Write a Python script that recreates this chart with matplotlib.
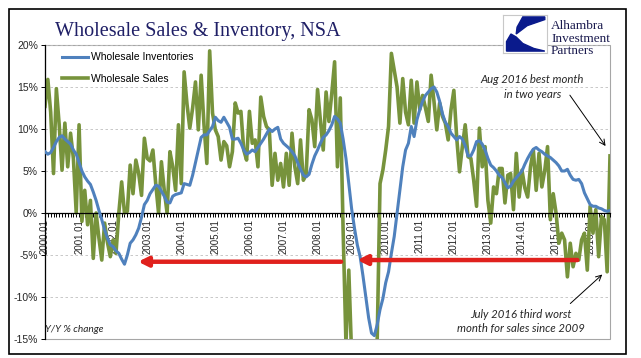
import numpy as np
import matplotlib.pyplot as plt
from matplotlib.patches import Rectangle, Polygon

plt.rcParams['font.family'] = ['Liberation Sans', 'DejaVu Sans']

# monthly Y/Y % change, 2000.01 - 2016.08
inventories = [
    7.3, 7.0, 7.2, 7.8, 8.5, 9.0, 9.2, 8.8, 8.5, 8.2, 7.5, 7.0,
    6.0, 5.0, 4.3, 3.8, 3.4, 2.5, 1.5, 0.3, -0.8, -2.0, -3.0, -3.8,
    -4.0, -4.5, -4.8, -5.5, -6.1, -5.0, -3.6, -3.2, -2.6, -1.8, -0.5, 1.0,
    1.5, 2.3, 2.8, 3.3, 3.2, 2.6, 2.0, 1.3, 1.2, 2.0, 2.2, 2.3,
    2.4, 3.5, 3.4, 3.3, 4.5, 6.0, 7.5, 9.0, 9.3, 9.3, 9.8, 10.3,
    11.4, 11.0, 10.8, 11.4, 10.8, 10.2, 8.8, 8.8, 8.9, 8.3, 7.5, 7.0,
    7.2, 7.5, 7.3, 7.8, 8.3, 8.8, 9.4, 10.0, 9.7, 10.0, 10.2, 8.8,
    8.3, 8.0, 7.7, 7.3, 6.8, 6.0, 5.2, 4.5, 4.3, 4.6, 5.8, 6.8,
    7.5, 8.3, 9.0, 9.3, 9.8, 10.5, 11.5, 11.2, 10.7, 8.8, 6.5, 3.5,
    0.5, -1.8, -3.8, -5.2, -7.5, -10.0, -12.5, -14.3, -14.6, -13.3, -11.5, -10.2,
    -8.3, -7.0, -4.8, -2.8, 0.0, 2.7, 5.5, 7.5, 8.3, 10.3, 9.1, 11.1,
    12.3, 13.3, 14.0, 14.4, 14.8, 15.0, 14.4, 13.3, 11.8, 10.8, 10.3, 9.5,
    9.1, 8.7, 9.1, 8.8, 8.0, 6.8, 6.8, 7.5, 8.5, 8.6, 8.2, 7.5,
    6.5, 5.7, 5.4, 5.0, 4.5, 4.2, 3.6, 3.0, 3.2, 3.8, 4.2, 4.6,
    5.0, 5.8, 6.5, 7.1, 7.6, 7.8, 7.5, 7.3, 7.0, 6.8, 6.6, 6.3,
    6.0, 5.6, 5.0, 5.0, 5.2, 4.5, 4.0, 3.9, 4.0, 3.5, 2.4, 1.7,
    1.0, 0.8, 0.8, 0.6, 0.5, 0.3, 0.2, 0.3,
]

sales = [
    12.7, 15.9, 12.0, 4.7, 14.8, 10.5, 5.1, 10.7, 5.5, 9.5, 6.5, 0.0,
    10.5, -1.0, 2.7, -1.4, 1.5, -5.4, 0.0, -3.0, -5.6, -1.2, -3.5, -5.2,
    -3.2, -4.8, 0.0, 3.7, 0.0, 0.2, 5.7, 2.3, 6.3, 4.7, 2.1, 8.9,
    6.5, 6.2, 7.5, 3.5, 0.0, 6.1, 2.7, 0.0, 7.3, 5.5, 2.7, 10.5,
    3.5, 16.8, 13.0, 10.1, 12.5, 15.6, 9.9, 16.4, 10.5, 5.9, 19.3, 11.9,
    9.9, 9.1, 6.3, 8.5, 8.0, 5.5, 7.3, 13.1, 11.9, 12.1, 7.5, 6.3,
    12.1, 8.3, 8.7, 5.5, 13.8, 11.5, 10.3, 9.9, 3.3, 7.1, 3.9, 5.9,
    3.1, 7.1, 3.3, 9.5, 5.5, 3.5, 8.7, 3.9, 4.7, 12.3, 11.1, 7.9,
    14.7, 11.0, 7.5, 14.4, 10.9, 14.2, 18.0, 5.5, 13.7, -2.0, -15.5, -6.8,
    -17.0, -19.0, -22.0, -21.0, -23.0, -22.0, -21.0, -19.0, -17.0, -15.2, 3.5, 5.1,
    7.5, 10.3, 19.0, 17.0, 15.0, 10.7, 16.0, 12.0, 10.5, 15.8, 10.7, 15.6,
    12.3, 14.0, 12.5, 10.9, 16.4, 13.3, 9.9, 13.1, 11.5, 10.7, 8.7, 12.3,
    14.6, 9.0, 4.9, 7.9, 10.5, 6.7, 6.5, 3.9, 0.8, 10.1, 5.5, 7.9,
    1.5, -1.2, 3.1, 2.3, 5.3, 5.3, 1.2, 4.5, 4.7, 0.4, 7.1, 1.9,
    5.1, 3.0, 1.9, 5.5, 7.5, 2.7, 7.1, 3.1, 5.0, 7.9, -0.8, 2.3,
    0.0, -3.6, -2.4, -3.2, -7.6, -3.6, -6.4, -4.8, -5.6, -3.2, -2.4, -6.8,
    0.8, -2.4, 0.4, -5.2, -0.4, -0.8, -7.0, 6.8,
]

years = list(range(2000, 2017))
year_labels = [f"{y}.01" for y in years]
y_ticks = [-15, -10, -5, 0, 5, 10, 15, 20]

# red arrows: (tail month index, head month index, level %)
red_arrows = [(104.3, 32.8, -5.8), (187.5, 110.0, -5.6)]

navy = '#1F1F66'
blue = '#4F81BD'
green = '#77933C'

W, H = 641, 358
fig = plt.figure(figsize=(W / 100, H / 100), dpi=100)
ax = fig.add_axes([45 / W, 1 - 339 / H, 565 / W, 294 / H])

x = np.arange(len(sales))
ax.plot(x, inventories, color=blue, lw=2.2, label='Wholesale Inventories', zorder=3)
ax.plot(x, sales, color=green, lw=2.6, label='Wholesale Sales', zorder=2)

ax.set_xlim(0, len(sales) - 1)
ax.set_ylim(-15, 20)
ax.set_yticks(y_ticks)
ax.set_yticklabels([f"{v}%" for v in y_ticks])
ax.set_xticks([12 * i for i in range(len(years))])
ax.set_xticklabels(year_labels)
ax.set_xticks(np.arange(len(sales)), minor=True)
ax.tick_params(axis='x', which='both', direction='out', length=3, width=0.7, pad=1.5)
ax.tick_params(axis='x', which='major', labelrotation=90, labelsize=7, labelcolor='#262626')
ax.tick_params(axis='y', direction='out', length=3, width=0.7, pad=2,
               labelsize=7.5, labelcolor='#262626')

ax.spines['bottom'].set_position(('data', 0))
ax.spines['bottom'].set_linewidth(0.9)
ax.spines['left'].set_linewidth(0.9)
ax.spines['top'].set_visible(False)
ax.spines['right'].set_visible(False)
ax.add_patch(Rectangle((0, 0), 1, 1, transform=ax.transAxes, fill=False,
                       ec='#A6A6A6', lw=0.8, clip_on=False, zorder=0))
ax.yaxis.grid(True, ls=(0, (3, 3)), color='#BFBFBF', lw=0.6)
ax.set_axisbelow(True)

ax.legend(loc='upper left', bbox_to_anchor=(0.03, 0.975), frameon=False,
          fontsize=7.5, borderpad=0, borderaxespad=0, labelspacing=1.1,
          handlelength=2.5, handletextpad=0.3)

for tail, head, lvl in red_arrows:
    ax.annotate('', xy=(head, lvl), xytext=(tail, lvl),
                arrowprops=dict(arrowstyle='-|>', color='#E0211D', lw=3.2,
                                mutation_scale=14, shrinkA=0, shrinkB=0), zorder=4)

note_font = dict(family=['Lato', 'DejaVu Sans'], style='italic', color='#262626')
ax.text(171.6, 15.0, 'Aug 2016 best month\nin two years', ha='center', va='center',
        fontsize=8.2, linespacing=1.4, **note_font)
ax.annotate('', xy=(198.0, 7.7), xytext=(184.3, 14.3),
            arrowprops=dict(arrowstyle='->', color='black', lw=0.7))
ax.text(167.7, -12.9, 'July 2016 third worst\nmonth for sales since 2009', ha='center',
        va='center', fontsize=8.2, linespacing=1.4, **note_font)
ax.annotate('', xy=(197.0, -7.1), xytext=(184.3, -11.0),
            arrowprops=dict(arrowstyle='->', color='black', lw=0.7))
ax.text(0, -13.9, 'Y/Y % change', ha='left', va='center', fontsize=7.3, **note_font)

# title
fig.text(55 / W, 1 - 36 / H, 'Wholesale Sales & Inventory, NSA', ha='left', va='baseline',
         fontsize=14.5, color=navy, family=['Liberation Serif', 'DejaVu Serif'])

# logo
lax = fig.add_axes([503 / W, 1 - 53 / H, 44 / W, 38 / H], zorder=10)
lax.set_xlim(0, 1)
lax.set_ylim(0, 1)
lax.set_xticks([])
lax.set_yticks([])
for s in lax.spines.values():
    s.set_color('#C8C8C8')
    s.set_linewidth(0.8)
lax.add_patch(Polygon([(0.45, 0.95), (0.95, 0.95), (0.95, 0.88), (0.55, 0.72),
                       (0.3, 0.5), (0.32, 0.68)], closed=True, color='#0A1A8C'))
lax.add_patch(Polygon([(0.08, 0.05), (0.95, 0.05), (0.7, 0.12), (0.45, 0.25),
                       (0.3, 0.42), (0.18, 0.5), (0.08, 0.3)], closed=True, color='#0A1A8C'))
for i, word in enumerate(['Alhambra', 'Investment', 'Partners']):
    fig.text(551 / W, 1 - (29 + 12.5 * i) / H, word, ha='left', va='baseline',
             fontsize=9.5, color='#1A1A4E', family=['Liberation Serif', 'DejaVu Serif'])

# outer border
fig.patches.append(Rectangle((9 / W, 1 - 354 / H), 617 / W, 345 / H,
                             transform=fig.transFigure, fill=False, ec='black', lw=1.2))

fig.savefig('out.png', dpi=100)
